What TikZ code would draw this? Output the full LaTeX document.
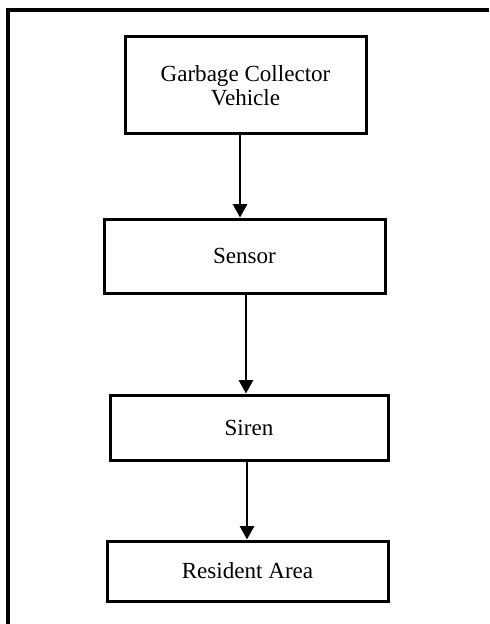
\documentclass[tikz,border=0pt]{standalone}
\usepackage{fontspec}
\setmainfont{Liberation Serif}
\usetikzlibrary{arrows.meta}

\tikzset{
  blk/.style={draw, line width=2.25pt, align=center, inner sep=0.75pt,
    font=\fontsize{17.3}{18}\selectfont},
  flow/.style={line width=2pt, -{Triangle[width=10.5pt,length=10pt]}}
}

\begin{document}
\begin{tikzpicture}[x=0.75pt,y=0.75pt,yscale=-1,xscale=1]
        \useasboundingbox (0,0) rectangle (489,624);
        \draw [line width=3pt]   (489,10) -- (8,10) -- (8,624) ;

        \node [blk, minimum width=180.75pt, minimum height=72.75pt] (gcv) at (245.5,85.5) {Garbage Collector\\Vehicle};
        \node [blk, minimum width=210.75pt, minimum height=55.5pt] (sensor) at (244.5,256) {Sensor};
        \node [blk, minimum width=208.5pt, minimum height=48.75pt] (siren) at (249,427.5) {Siren};
        \node [blk, minimum width=210.75pt, minimum height=45pt] (area) at (247.5,571) {Resident Area};

        \draw [flow]   ([xshift=-4.1pt]gcv.south) -- ([xshift=-4.1pt]gcv.south |- sensor.north) ;
        \draw [flow]   ([xshift=1.1pt]sensor.south) -- ([xshift=1.1pt]sensor.south |- siren.north) ;
        \draw [flow]   ([xshift=-1.5pt]siren.south) -- ([xshift=-1.5pt]siren.south |- area.north) ;
\end{tikzpicture}
\end{document}
